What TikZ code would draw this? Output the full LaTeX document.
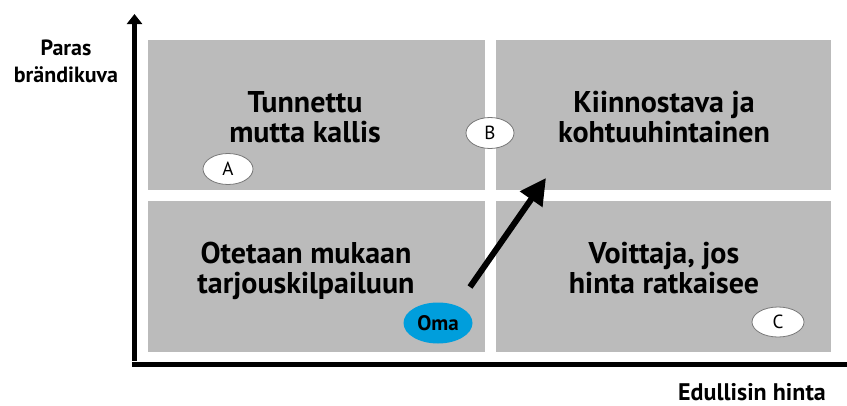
\documentclass[tikz,border=0pt]{standalone}
\usepackage{fontspec}
\setmainfont{PT Sans}
\usetikzlibrary{arrows.meta,shapes.geometric}
\definecolor{quadgray}{RGB}{187,187,187}
\definecolor{omablue}{RGB}{0,158,220}
\definecolor{rimgray}{RGB}{120,120,120}
\tikzset{
  quad/.style={fill=quadgray,draw=none},
  quadtext/.style={align=center,font=\bfseries\fontsize{30}{30}\selectfont,inner sep=0pt,anchor=base},
  axislabel/.style={align=center,font=\bfseries\fontsize{22}{27}\selectfont,inner sep=0pt,anchor=base},
  tag/.style={ellipse,draw=rimgray,line width=0.8pt,fill=white,inner sep=0pt,
              minimum width=50pt,minimum height=31pt,font=\fontsize{19}{20}\selectfont},
  axisline/.style={line width=5pt},
}
\begin{document}
\begin{tikzpicture}[x=1pt,y=-1pt]
\useasboundingbox (0,0) rectangle (847,405);
% four quadrants
\path[quad] (148,40) rectangle (485,190);
\path[quad] (496,40) rectangle (831,190);
\path[quad] (148,201) rectangle (485,352);
\path[quad] (496,201) rectangle (831,352);
% axes
\coordinate (orig) at (134.5,364);
\coordinate (ytop) at (134.5,14);
\coordinate (xend) at (847,364);
\draw[axisline,-{Triangle[length=10pt,width=15pt]}] ([yshift=3pt]orig) -- (ytop);
\draw[axisline] ([xshift=-2.5pt]orig) -- (xend);
% axis labels (anchored on the last line's baseline)
\node[axislabel] (ylab) at (66,82) {Paras\\brändikuva};
\node[axislabel,font=\bfseries\fontsize{24}{27}\selectfont] (xlab) at (752,400) {Edullisin hinta};
% quadrant titles
\node[quadtext] (q1) at (305,142) {Tunnettu\\mutta kallis};
\node[quadtext] (q2) at (664,142) {Kiinnostava ja\\kohtuuhintainen};
\node[quadtext] (q3) at (306,293) {Otetaan mukaan\\tarjouskilpailuun};
\node[quadtext] (q4) at (664,293) {Voittaja, jos\\hinta ratkaisee};
% positions
\node[tag] (a) at (228,169) {A};
\node[tag,minimum width=48pt] (b) at (490,133) {B};
\node[tag,minimum width=52pt,minimum height=30pt] (c) at (778,322) {C};
\node[tag,draw=none,fill=omablue,minimum width=69pt,minimum height=41pt,font=\bfseries\fontsize{21}{22}\selectfont] (oma) at (438,323) {Oma};
% movement arrow
\coordinate (mv0) at (470,287);
\coordinate (mv1) at (546,178);
\draw[line width=6pt,-{Triangle[length=26pt,width=26pt]}] (mv0) -- (mv1);
\end{tikzpicture}
\end{document}
